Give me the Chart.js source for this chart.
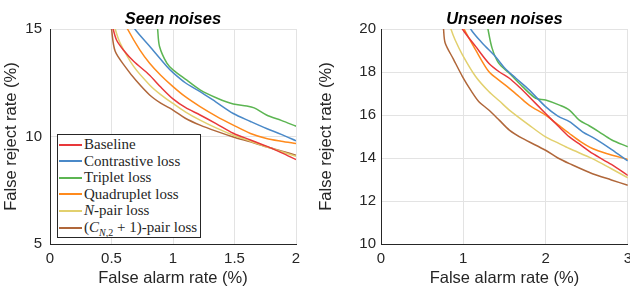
<!DOCTYPE html>
<html>
<head>
<meta charset="utf-8">
<script src="https://cdn.jsdelivr.net/npm/chart.js@4.4.1/dist/chart.umd.min.js"></script>
<style>
  body { margin:0; background:#fff; }
  #wrap { position:relative; width:630px; height:291px; overflow:hidden; }
  .box { position:absolute; top:0; height:291px; overflow:hidden; }
  #legend {
    position:absolute; left:57px; top:134px; width:144px; height:104px;
    border:1px solid #262626; background:#fff; box-sizing:border-box;
    font-family:"Liberation Serif","DejaVu Serif",serif; font-size:15px; color:#262626;
    padding-top:1px;
  }
  #legend .row { height:16.6px; line-height:16.6px; white-space:nowrap; }
  #legend .sw { display:inline-block; width:23px; height:2px; vertical-align:middle; margin:0 2px 0 1px; position:relative; top:-1px; }
</style>
</head>
<body>
<div id="wrap">
  <div class="box" style="left:0;width:315px"><canvas id="seenChart" width="315" height="291"></canvas></div>
  <div class="box" style="left:315px;width:315px"><canvas id="unseenChart" width="323" height="291"></canvas></div>
  <div id="legend"></div>
</div>
<script>
// ===== DATA =====
const seriesNames = ['Baseline','Contrastive loss','Triplet loss','Quadruplet loss','<i>N</i>-pair loss','(<i>C</i><sub style="font-size:10px"><i>N</i>,2</sub> + 1)-pair loss'];
const seriesColors = ['#e8383a','#4a89c8','#5cb552','#ff8a1c','#e2d06e','#b0673a'];

// seen noises: [false alarm %, false reject %]
const seenBaseline    = [[0.50,15.3],[0.54,14.5],[0.60,14.0],[0.68,13.5],[0.81,12.85],[0.90,12.3],[1.0,11.75],[1.1,11.35],[1.22,11.0],[1.35,10.6],[1.49,10.15],[1.63,9.84],[1.76,9.55],[1.88,9.25],[2.0,8.93]];
const seenContrastive = [[0.67,15.3],[0.69,15.0],[0.81,14.2],[0.95,13.26],[1.0,12.97],[1.1,12.5],[1.22,12.09],[1.35,11.6],[1.49,11.07],[1.63,10.7],[1.76,10.37],[1.88,10.1],[2.0,9.8]];
const seenTriplet     = [[0.87,15.3],[0.875,15.0],[0.89,14.2],[0.95,13.41],[1.0,13.1],[1.11,12.63],[1.22,12.17],[1.36,11.78],[1.49,11.51],[1.6,11.42],[1.66,11.33],[1.76,11.0],[1.88,10.75],[2.0,10.48]];
const seenQuadruplet  = [[0.61,15.3],[0.63,15.0],[0.73,14.03],[0.81,13.41],[0.9,12.85],[1.0,12.32],[1.1,11.85],[1.22,11.39],[1.35,10.95],[1.49,10.53],[1.63,10.14],[1.76,9.91],[1.88,9.78],[2.0,9.67]];
const seenNpair       = [[0.52,15.3],[0.53,15.0],[0.57,14.35],[0.68,13.26],[0.81,12.4],[0.9,11.95],[1.0,11.54],[1.1,11.15],[1.22,10.76],[1.35,10.4],[1.49,10.06],[1.63,9.78],[1.76,9.52],[1.88,9.3],[2.0,9.08]];
const seenPairC       = [[0.495,15.3],[0.5,15.0],[0.53,13.96],[0.62,13.18],[0.7,12.6],[0.81,11.93],[0.9,11.55],[1.0,11.23],[1.1,10.85],[1.22,10.53],[1.35,10.25],[1.49,9.98],[1.63,9.75],[1.76,9.52],[1.88,9.33],[2.0,9.13]];

// unseen noises
const unseenBaseline    = [[0.97,20.3],[0.99,20.0],[1.15,19.19],[1.31,18.41],[1.44,18.0],[1.56,17.71],[1.68,17.3],[1.8,16.85],[2.0,16.07],[2.15,15.5],[2.29,14.98],[2.43,14.6],[2.57,14.21],[2.8,13.7],[3.0,13.19]];
const unseenContrastive = [[1.08,20.3],[1.09,20.0],[1.23,19.35],[1.39,18.72],[1.5,18.2],[1.64,17.71],[1.8,17.17],[2.0,16.39],[2.15,15.95],[2.29,15.69],[2.45,15.22],[2.6,14.9],[2.8,14.4],[3.0,13.86]];
const unseenTriplet     = [[1.29,20.3],[1.3,20.0],[1.35,19.11],[1.43,18.41],[1.56,17.94],[1.72,17.32],[1.88,16.78],[2.0,16.7],[2.17,16.46],[2.29,16.23],[2.41,15.76],[2.53,15.5],[2.65,15.22],[2.8,14.85],[3.0,14.52]];
const unseenQuadruplet  = [[0.99,20.3],[1.01,20.0],[1.15,19.03],[1.31,18.02],[1.44,17.6],[1.56,17.24],[1.68,16.85],[1.8,16.46],[2.0,15.99],[2.15,15.55],[2.29,15.14],[2.43,14.75],[2.57,14.44],[2.74,14.21],[3.0,13.93]];
const unseenNpair       = [[0.83,20.3],[0.85,20.0],[0.9,19.5],[0.99,18.8],[1.15,17.79],[1.31,17.09],[1.44,16.65],[1.56,16.23],[1.8,15.53],[2.0,14.98],[2.15,14.7],[2.29,14.44],[2.57,13.97],[2.8,13.5],[3.0,13.08]];
const unseenPairC       = [[0.755,20.3],[0.76,20.0],[0.78,19.35],[0.88,18.6],[0.99,17.79],[1.1,17.1],[1.19,16.62],[1.31,16.23],[1.44,15.75],[1.56,15.3],[1.72,14.91],[2.0,14.36],[2.15,14.0],[2.29,13.74],[2.57,13.27],[2.8,12.98],[3.0,12.73]];

const seenSeries   = [seenBaseline, seenContrastive, seenTriplet, seenQuadruplet, seenNpair, seenPairC];
const unseenSeries = [unseenBaseline, unseenContrastive, unseenTriplet, unseenQuadruplet, unseenNpair, unseenPairC];

const seenXTicks = [0, 0.5, 1, 1.5, 2];
const seenYTicks = [5, 10, 15];
const unseenXTicks = [0, 1, 2, 3];
const unseenYTicks = [10, 12, 14, 16, 18, 20];

// ===== HELPERS =====
const FONT = '"Liberation Sans", Arial, sans-serif';
const TXT = '#262626';

const titlePlugin = {
  id:'panelTitle',
  afterDraw(chart, args, opts){
    const {ctx, chartArea} = chart;
    ctx.save();
    ctx.font = 'italic bold 16.5px ' + FONT;
    ctx.fillStyle = '#000';
    ctx.textAlign = 'center';
    ctx.textBaseline = 'middle';
    ctx.fillText(opts.text, (chartArea.left + chartArea.right) / 2, 19);
    ctx.restore();
  }
};

function makeChart(id, title, series, xMin, xMax, xTicks, yMin, yMax, yTicks, yWidth, yPad, padRight){
  return new Chart(document.getElementById(id), {
    type:'line',
    data:{
      datasets: series.map((s,i)=>({
        label: seriesNames[i],
        data: s.map(p=>({x:p[0], y:p[1]})),
        borderColor: seriesColors[i],
        borderWidth: 1.5,
        pointRadius: 0,
        tension: 0.3,
        fill: false
      }))
    },
    options:{
      responsive:false,
      animation:false,
      layout:{ padding:{ top:29, right:padRight, bottom:0, left:0 } },
      plugins:{ legend:{ display:false }, tooltip:{ enabled:false }, panelTitle:{ text:title } },
      scales:{
        x:{
          type:'linear', min:xMin, max:xMax,
          afterBuildTicks: sc => { sc.ticks = xTicks.map(v=>({value:v})); },
          afterFit: sc => { sc.height = 47; },
          grid:{ color:'#e3e3e3', drawTicks:false },
          border:{ color:TXT, width:1 },
          ticks:{ color:TXT, font:{ family:FONT, size:15 }, padding:6, maxRotation:0, callback: v => String(v) },
          title:{ display:true, text:'False alarm rate (%)', color:TXT, font:{ family:FONT, size:16.5 }, padding:{ top:0, bottom:3 } }
        },
        y:{
          type:'linear', min:yMin, max:yMax,
          afterBuildTicks: sc => { sc.ticks = yTicks.map(v=>({value:v})); },
          afterFit: sc => { sc.width = yWidth; },
          grid:{ color:'#e3e3e3', drawTicks:false },
          border:{ color:TXT, width:1 },
          ticks:{ color:TXT, font:{ family:FONT, size:15 }, padding:yPad, callback: v => String(v) },
          title:{ display:true, text:'False reject rate (%)', color:TXT, font:{ family:FONT, size:16.5 }, padding:{ top:2, bottom:0 } }
        }
      }
    },
    plugins:[titlePlugin]
  });
}

const seenChart = makeChart('seenChart','Seen noises', seenSeries, 0, 2, seenXTicks, 5, 15, seenYTicks, 50, 8, 19);
const unseenChart = makeChart('unseenChart','Unseen noises', unseenSeries, 0, 3, unseenXTicks, 10, 20, unseenYTicks, 66, 5, 3);

// ===== LEGEND =====
document.getElementById('legend').innerHTML = seriesNames.map((n,i)=>
  `<div class="row"><span class="sw" style="background:${seriesColors[i]}"></span>${n}</div>`
).join('');
</script>
</body>
</html>
